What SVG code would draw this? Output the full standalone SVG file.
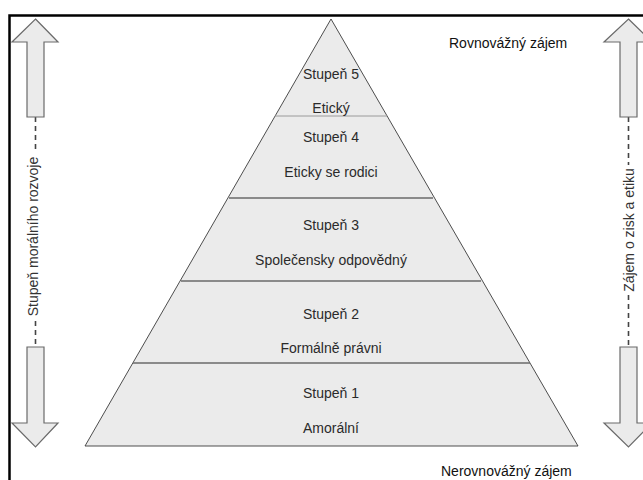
<svg xmlns="http://www.w3.org/2000/svg" width="643" height="480" viewBox="0 0 643 480">
  <style>
    .frame { fill: none; stroke: #000; stroke-width: 2.5; }
    .pyr { fill: #ebebeb; stroke: #3a3a3a; stroke-width: 0.9; stroke-linejoin: miter; }
    .sep { stroke: #6a6a6a; stroke-width: 1.6; }
    .sep-thin { stroke: #9a9a9a; stroke-width: 1; }
    .lvl { font-family: "Liberation Sans", Arial, sans-serif; font-size: 14px; fill: #2a2a2a; text-anchor: middle; }
    .side { font-family: "Liberation Sans", Arial, sans-serif; font-size: 14px; fill: #111; }
    .axis { font-family: "Liberation Sans", Arial, sans-serif; font-size: 14px; fill: #333; text-anchor: middle; }
    .arrow { fill: #ebebeb; stroke: #6a6a6a; stroke-width: 1.2; stroke-linejoin: miter; }
    .dash { stroke: #444; stroke-width: 1.6; stroke-dasharray: 5 4; fill: none; }
  </style>

  <!-- outer frame (top and left edges) -->
  <path class="frame" d="M9.5,480 V15.5 H643"/>

  <!-- pyramid -->
  <g id="pyramid">
    <polygon class="pyr" points="331,19 578,446 85,446"/>
    <line class="sep-thin" x1="275" y1="116" x2="387" y2="116"/>
    <line class="sep" x1="229" y1="198" x2="433" y2="198"/>
    <line class="sep" x1="181" y1="281" x2="481" y2="281"/>
    <line class="sep" x1="133" y1="363" x2="530" y2="363"/>
  </g>

  <g id="level5">
    <text class="lvl" x="331" y="79">Stupeň 5</text>
    <text class="lvl" x="331" y="113">Etický</text>
  </g>
  <g id="level4">
    <text class="lvl" x="331" y="142">Stupeň 4</text>
    <text class="lvl" x="331" y="177">Eticky se rodici</text>
  </g>
  <g id="level3">
    <text class="lvl" x="331" y="230">Stupeň 3</text>
    <text class="lvl" x="331" y="265">Společensky odpovědný</text>
  </g>
  <g id="level2">
    <text class="lvl" x="331" y="319">Stupeň 2</text>
    <text class="lvl" x="331" y="353">Formálně právni</text>
  </g>
  <g id="level1">
    <text class="lvl" x="331" y="398">Stupeň 1</text>
    <text class="lvl" x="331" y="433">Amorální</text>
  </g>

  <g id="top-label">
    <text class="side" x="449" y="48">Rovnovážný zájem</text>
  </g>
  <g id="bottom-label">
    <text class="side" x="441" y="476">Nerovnovážný zájem</text>
  </g>

  <!-- vertical scales with arrows -->
  <g id="connectors">
    <path class="dash" d="M35.5,117 V153 M35.5,321 V347"/>
    <path class="dash" d="M628.5,117 V165 M628.5,295 V347"/>
  </g>

  <g id="left-scale">
    <polygon class="arrow" points="35.5,19 58,42 44,42 44,117 27,117 27,42 12,42"/>
    <polygon class="arrow" points="27,347 44,347 44,423 58,423 35.5,447 12,423 27,423"/>
    <text class="axis" transform="translate(38,236.5) rotate(-90)">Stupeň morálního rozvoje</text>
  </g>

  <g id="right-scale">
    <polygon class="arrow" points="628.5,19 652,42 637,42 637,117 620,117 620,42 604,42"/>
    <polygon class="arrow" points="620,347 637,347 637,423 652,423 628.5,447 604,423 620,423"/>
    <text class="axis" transform="translate(633.5,230) rotate(-90)">Zájem o zisk a etiku</text>
  </g>
</svg>
